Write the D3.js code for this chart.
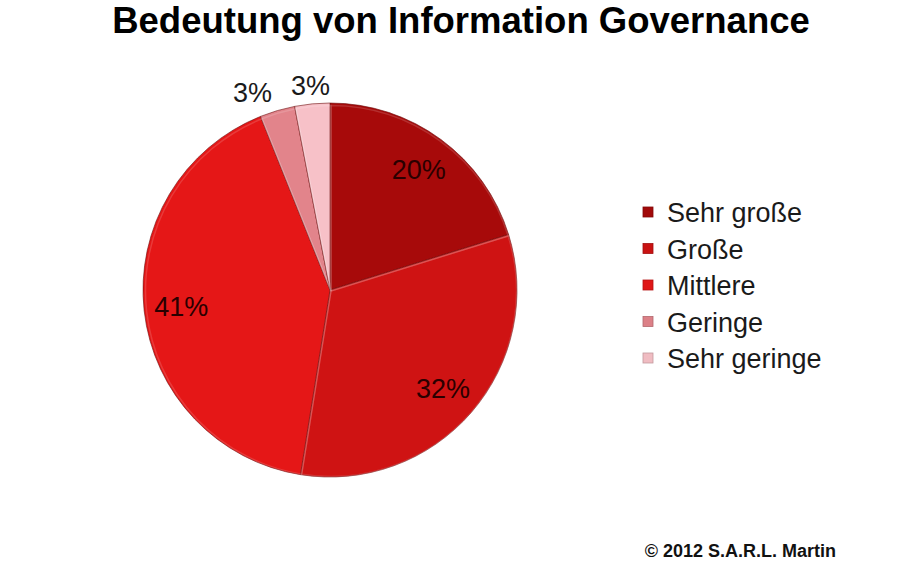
<!DOCTYPE html>
<html>
<head>
<meta charset="utf-8">
<script src="https://cdn.jsdelivr.net/npm/d3@7"></script>
<style>
  body { margin: 0; background: #fff; }
  text { font-family: "Liberation Sans", Arial, sans-serif; }
</style>
</head>
<body>
<div id="chart"></div>
<script>
const categories = ["Sehr große", "Große", "Mittlere", "Geringe", "Sehr geringe"];
const values = [20, 32, 41, 3, 3];
const labels = ["20%", "32%", "41%", "3%", "3%"];
const colors = ["#a20a0a", "#c91212", "#df1616", "#dc8087", "#f0bcc2"];
const outside = [false, false, false, true, true];
const outsideAnchor = ["middle", "middle", "middle", "end", "middle"];

const width = 900, height = 563;
const cx = 330, cy = 290, radius = 187;

const svg = d3.select("#chart").append("svg")
    .attr("width", width)
    .attr("height", height);

const defs = svg.append("defs");
colors.forEach(function (c, i) {
    const g = defs.append("radialGradient")
        .attr("id", "grad" + i)
        .attr("gradientUnits", "userSpaceOnUse")
        .attr("cx", cx).attr("cy", cy).attr("r", radius);
    g.append("stop").attr("offset", "0%").attr("stop-color", d3.color(c).darker(0.12));
    g.append("stop").attr("offset", "90%").attr("stop-color", c);
    g.append("stop").attr("offset", "100%").attr("stop-color", d3.color(c).brighter(0.08));
});

// Title
svg.append("text")
    .attr("x", 461)
    .attr("y", 33)
    .attr("text-anchor", "middle")
    .style("font-size", "36.5px")
    .style("font-weight", "bold")
    .attr("fill", "#000")
    .text("Bedeutung von Information Governance");

const pie = d3.pie().sort(null).value(function (d) { return d; });
const arcs = pie(values);
const arc = d3.arc().innerRadius(0).outerRadius(radius);
const labelArc = d3.arc().innerRadius(radius * 0.8).outerRadius(radius * 0.8);
const outerArc = d3.arc().innerRadius(radius * 1.1).outerRadius(radius * 1.1);

const g = svg.append("g")
    .attr("transform", "translate(" + cx + "," + cy + ")");

g.selectAll("path.slice")
    .data(arcs)
    .enter().append("path")
    .attr("class", "slice")
    .attr("d", arc)
    .attr("fill", function (d, i) { return "url(#grad" + i + ")"; })
    .attr("stroke", "#6e1010")
    .attr("stroke-opacity", 0.6)
    .attr("stroke-width", 1);

// Light highlight on slice edges
g.selectAll("path.edge")
    .data(arcs)
    .enter().append("path")
    .attr("class", "edge")
    .attr("d", d3.arc().innerRadius(0).outerRadius(radius - 1.5))
    .attr("fill", "none")
    .attr("stroke", "#fff")
    .attr("stroke-opacity", 0.15)
    .attr("stroke-width", 1.5)
    .attr("transform", "translate(1,1)");

// Percent labels
g.selectAll("text.pct")
    .data(arcs)
    .enter().append("text")
    .attr("class", "pct")
    .attr("transform", function (d, i) {
        const p = outside[i] ? outerArc.centroid(d) : labelArc.centroid(d);
        return "translate(" + p[0] + "," + p[1] + ")";
    })
    .attr("dy", "0.36em")
    .attr("text-anchor", function (d, i) { return outsideAnchor[i]; })
    .style("font-size", "27px")
    .attr("fill", function (d, i) { return outside[i] ? "#1a1a1a" : "#2a0000"; })
    .text(function (d, i) { return labels[i]; });

// Legend
const legend = svg.append("g")
    .attr("transform", "translate(643,212)");

const row = legend.selectAll("g.row")
    .data(categories)
    .enter().append("g")
    .attr("class", "row")
    .attr("transform", function (d, i) { return "translate(0," + (i * 36.5) + ")"; });

row.append("rect")
    .attr("x", 0)
    .attr("y", -5)
    .attr("width", 10)
    .attr("height", 10)
    .attr("fill", function (d, i) { return colors[i]; })
    .attr("stroke", function (d, i) { return d3.color(colors[i]).darker(0.6); })
    .attr("stroke-width", 0.8);

row.append("text")
    .attr("x", 24)
    .attr("y", 10)
    .style("font-size", "27px")
    .attr("fill", "#1a1a1a")
    .text(function (d) { return d; });

// Copyright
svg.append("text")
    .attr("x", 836)
    .attr("y", 557)
    .attr("text-anchor", "end")
    .style("font-size", "18px")
    .style("font-weight", "bold")
    .attr("fill", "#111")
    .text("© 2012 S.A.R.L. Martin");
</script>
</body>
</html>
